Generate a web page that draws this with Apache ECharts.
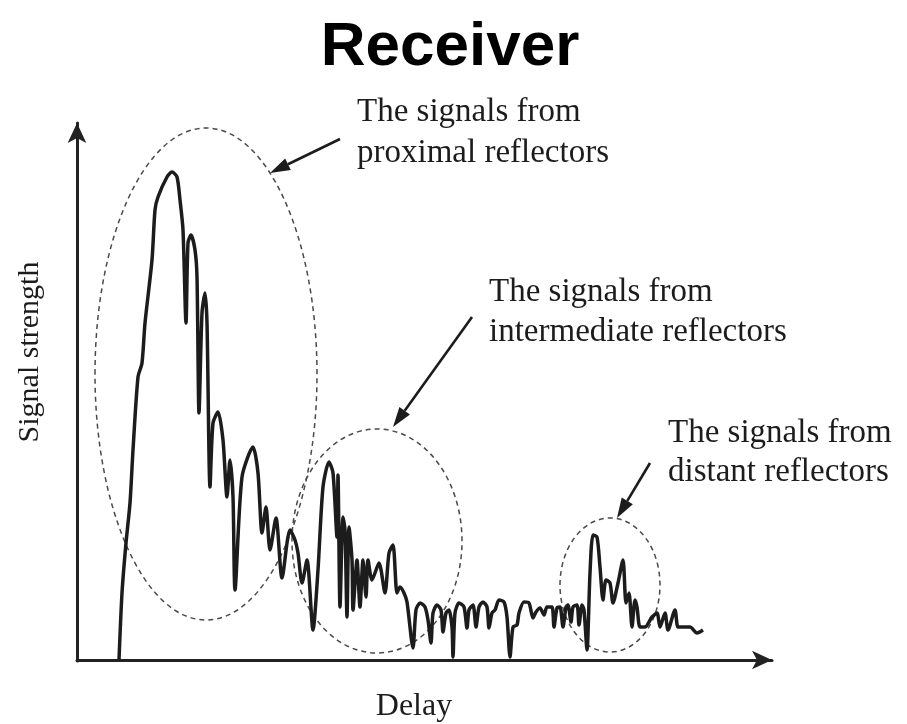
<!DOCTYPE html>
<html>
<head>
<meta charset="utf-8">
<script src="https://cdn.jsdelivr.net/npm/echarts@6/dist/echarts.min.js"></script>
<style>
html,body{margin:0;padding:0;background:#fff;}
#chart{width:907px;height:724px;}
</style>
</head>
<body>
<div id="chart"></div>
<script>
// Delay (arbitrary units) and signal strength (arbitrary units)
const delay = [44,47,51,55,58,63,67,70,77,80,83,92,97,102,105,108,111,113,116,120,122,124,127,130,132,135,138,143,148,152,155,158,160,167,178,183,187,191,195,201,207,215,220,223,227,232,238,243,248,254,258,262,263,265,268,270,272,274,277,278,282,285,288,291,293,297,304,310,314,318,322,
  325,329,332,338,341,345,350,353,356,358,362,366,368,371,374,377,378,380,384,389,392,394,398,401,404,408,412,414,417,420,424,429,432,435,438,442,444,449,454,458,461,465,469,472,477,479,482,485,488,491,493,496,498,502,504,507,509,512,515,
  518,522,525,528,531,535,538,543,548,551,554,557,560,562,565,570,577,582,585,590,593,600,603,608,615,622,628];
const strength = [0,67,117,157,210,283,297,337,400,450,463,483,488,483,460,430,337,417,425,410,383,247,347,367,337,173,237,248,220,163,200,163,70,183,213,187,127,153,110,142,82,130,120,107,77,100,30,90,173,198,187,123,185,53,143,130,43,133,100,50,100,53,100,63,100,80,97,67,107,115,67,
  73,67,58,12,50,57,53,40,17,47,55,50,28,47,50,33,3,47,57,53,32,50,55,33,53,58,53,32,47,50,60,58,43,3,33,35,47,58,57,42,48,52,45,53,53,33,52,53,33,53,55,38,53,55,35,55,50,10,87,
  125,123,93,60,80,77,57,77,100,57,67,33,60,53,33,33,43,47,33,47,30,50,33,33,33,27,30];

const titleText = 'Receiver';
const xName = 'Delay';
const yName = 'Signal strength';
const notes = [
  ['The signals from', 'proximal reflectors'],
  ['The signals from', 'intermediate reflectors'],
  ['The signals from', 'distant reflectors']
];

const series = delay.map((d, i) => [d, strength[i]]);

const serif = '"Liberation Serif","Times New Roman",serif';
const ink = '#1c1c1c';
const dash = '#4a4a4a';

function noteText(lines, x, y1, y2) {
  return [
    {type:'text', x:x, y:y1, style:{text:lines[0], font:'33px ' + serif, fill:ink, textAlign:'left', textVerticalAlign:'middle'}},
    {type:'text', x:x, y:y2, style:{text:lines[1], font:'33px ' + serif, fill:ink, textAlign:'left', textVerticalAlign:'middle'}}
  ];
}
function arrow(x1, y1, x2, y2) {
  const ang = Math.atan2(y2 - y1, x2 - x1);
  const L = 20, W = 6.5;
  const bx = x2 - L * Math.cos(ang), by = y2 - L * Math.sin(ang);
  const px = -Math.sin(ang) * W, py = Math.cos(ang) * W;
  return [
    {type:'line', shape:{x1:x1, y1:y1, x2:bx, y2:by}, style:{stroke:ink, lineWidth:2.6}},
    {type:'polygon', shape:{points:[[x2,y2],[bx+px,by+py],[bx-px,by-py]]}, style:{fill:ink}}
  ];
}
function ell(cx, cy, rx, ry) {
  return {type:'ellipse', shape:{cx:cx, cy:cy, rx:rx, ry:ry}, style:{fill:null, stroke:dash, lineWidth:1.5, lineDash:[5,4]}, z:1};
}

const chart = echarts.init(document.getElementById('chart'), null, {renderer:'canvas'});
chart.setOption({
  backgroundColor:'#ffffff',
  animation:false,
  title:{
    text:titleText, left:445, top:12, textAlign:'center',
    textStyle:{fontFamily:'"Liberation Sans",Arial,sans-serif', fontWeight:'bold', fontSize:62, color:'#000'}
  },
  grid:{left:77, right:135, top:123, bottom:63},
  xAxis:{
    type:'value', min:2, max:697,
    axisLine:{show:true, symbol:['none','arrow'], symbolSize:[14,20], lineStyle:{color:'#222', width:3}},
    axisTick:{show:false}, axisLabel:{show:false}, splitLine:{show:false}
  },
  yAxis:{
    type:'value', min:-1, max:537,
    axisLine:{show:true, symbol:['none','arrow'], symbolSize:[14,20], lineStyle:{color:'#222', width:3}},
    axisTick:{show:false}, axisLabel:{show:false}, splitLine:{show:false}
  },
  series:[{
    type:'line', data:series, showSymbol:false, smooth:0.25,
    lineStyle:{color:ink, width:3.5}, z:3
  }],
  graphic:[
    ell(206, 374, 111, 246),
    ell(377, 541, 85, 112),
    ell(610, 585, 50, 67),
    ...arrow(340, 139, 270, 173),
    ...arrow(472, 317, 393, 427),
    ...arrow(650, 463, 617, 518),
    ...noteText(notes[0], 357, 112, 153),
    ...noteText(notes[1], 489, 292, 332),
    ...noteText(notes[2], 668, 433, 472),
    {type:'text', x:414, y:707, style:{text:xName, font:'32px ' + serif, fill:ink, textAlign:'center', textVerticalAlign:'middle'}},
    {type:'text', x:30, y:352, rotation:Math.PI/2, style:{text:yName, font:'30px ' + serif, fill:ink, textAlign:'center', textVerticalAlign:'middle'}}
  ]
});
</script>
</body>
</html>
